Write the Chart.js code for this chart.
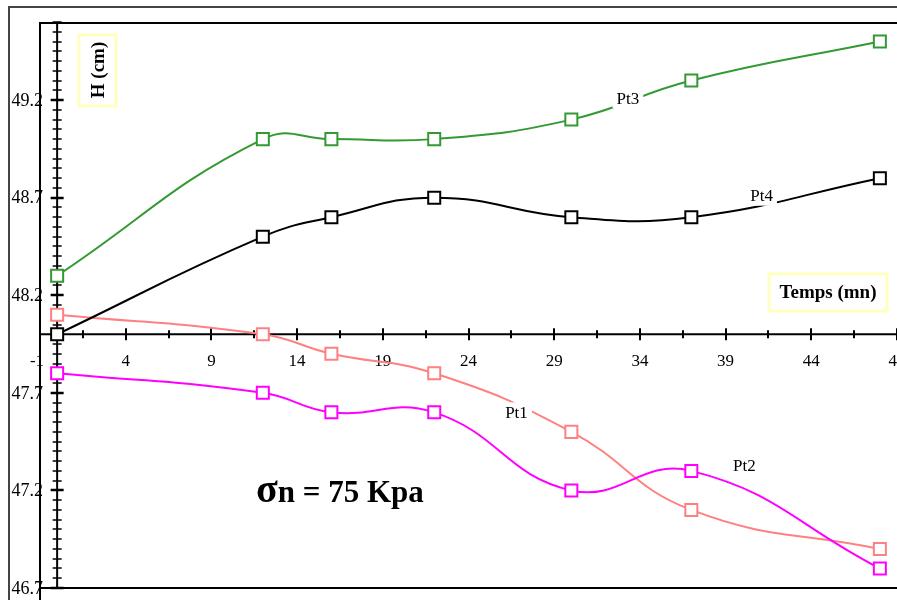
<!DOCTYPE html>
<html><head><meta charset="utf-8">
<script src="https://cdn.jsdelivr.net/npm/chart.js@4/dist/chart.umd.min.js"></script>
<style>html,body{margin:0;padding:0;background:#fff;}canvas{display:block;}</style>
</head><body>
<canvas id="c" width="897" height="600"></canvas>
<script>
const times = [0, 12, 16, 22, 30, 37, 48];
const pt1 = [48.1, 48.0, 47.9, 47.8, 47.5, 47.1, 46.9];
const pt2 = [47.8, 47.7, 47.6, 47.6, 47.2, 47.3, 46.8];
const pt3 = [48.3, 49.0, 49.0, 49.0, 49.1, 49.3, 49.5];
const pt4 = [48.0, 48.5, 48.6, 48.7, 48.6, 48.6, 48.8];
const seriesNames = ['Pt1', 'Pt2', 'Pt3', 'Pt4'];
const xTickLabels = [-1, 4, 9, 14, 19, 24, 29, 34, 39, 44, 49];
const yTickLabels = [46.7, 47.2, 47.7, 48.2, 48.7, 49.2];
// annotation anchors in data units
const nameLabelX = [26.8, 40.1, 33.3, 41.1];
const nameLabelY = [47.60, 47.33, 49.21, 48.71];

const colors = ['#ff8080', '#ff00ff', '#339933', '#000000'];
const seriesData = [pt1, pt2, pt3, pt4];

const SERIF = '"Liberation Serif", "Times New Roman", serif';

const datasets = seriesData.map((vals, i) => ({
  label: seriesNames[i],
  data: times.map((t, k) => ({x: t, y: vals[k]})),
  borderColor: colors[i],
  backgroundColor: '#ffffff',
  borderWidth: 2,
  pointStyle: 'rect',
  pointRadius: 8.5,
  pointBorderWidth: 2,
  pointBorderColor: colors[i],
  pointBackgroundColor: '#ffffff',
  tension: 0.45,
  fill: false,
  clip: false
}));
datasets.forEach((d, i) => d.order = 4 - i);

const axesPlugin = {
  id: 'axesPlugin',
  beforeDatasetsDraw(chart) {
    const ctx = chart.ctx;
    const xs = chart.scales.x, ys = chart.scales.y;
    const a = chart.chartArea;
    ctx.save();
    ctx.strokeStyle = '#444';
    ctx.lineWidth = 2;
    ctx.beginPath();
    ctx.moveTo(9, 600); ctx.lineTo(9, 7); ctx.lineTo(897, 7);
    ctx.stroke();
    ctx.strokeStyle = '#000';
    ctx.lineWidth = 2;
    ctx.beginPath();
    ctx.moveTo(897, a.top); ctx.lineTo(a.left, a.top); ctx.lineTo(a.left, 600);
    ctx.moveTo(a.left, a.bottom); ctx.lineTo(897, a.bottom);
    ctx.stroke();

    const x0 = xs.getPixelForValue(0);
    const y0 = ys.getPixelForValue(48.0);
    ctx.beginPath();
    ctx.moveTo(x0, a.top); ctx.lineTo(x0, a.bottom);
    ctx.stroke();
    for (let k = 0; k <= 58; k++) {
      const v = 46.7 + k * 0.05;
      const py = Math.round(ys.getPixelForValue(v));
      const major = k % 10 === 0;
      const h = major ? 6.5 : 4.5;
      ctx.lineWidth = major ? 2.5 : 1.5;
      ctx.beginPath();
      ctx.moveTo(x0 - h, py); ctx.lineTo(x0 + h, py);
      ctx.stroke();
    }
    ctx.lineWidth = 2;
    ctx.beginPath();
    ctx.moveTo(a.left, y0); ctx.lineTo(897, y0);
    ctx.stroke();
    for (let k = 0; k <= 20; k++) {
      const v = -1 + k * 2.5;
      const px = Math.round(xs.getPixelForValue(v));
      const major = k % 2 === 0;
      const h = major ? 6 : 4;
      ctx.lineWidth = 2;
      ctx.beginPath();
      ctx.moveTo(px, y0 - h); ctx.lineTo(px, y0 + h);
      ctx.stroke();
    }
    ctx.fillStyle = '#000';
    ctx.font = '18px ' + SERIF;
    ctx.textAlign = 'right';
    ctx.textBaseline = 'middle';
    yTickLabels.forEach(v => {
      ctx.fillText(v.toFixed(1), a.left + 3, ys.getPixelForValue(v) + 1);
    });
    ctx.font = '17px ' + SERIF;
    ctx.textAlign = 'center';
    xTickLabels.forEach(v => {
      ctx.fillText(String(v), xs.getPixelForValue(v) - (v === -1 ? 3 : 0), y0 + 27);
    });
    ctx.restore();
  },
  afterDatasetsDraw(chart) {
    const ctx = chart.ctx;
    const xs = chart.scales.x, ys = chart.scales.y;
    ctx.save();
    ctx.font = '17px ' + SERIF;
    ctx.textAlign = 'center';
    ctx.textBaseline = 'middle';
    seriesNames.forEach((n, i) => {
      const px = xs.getPixelForValue(nameLabelX[i]);
      const py = ys.getPixelForValue(nameLabelY[i]);
      const w = ctx.measureText(n).width;
      ctx.fillStyle = '#fff';
      ctx.fillRect(px - w / 2 - 4, py - 10, w + 8, 20);
      ctx.fillStyle = '#000';
      ctx.fillText(n, px, py + 1);
    });
    ctx.strokeStyle = '#ffffc0';
    ctx.lineWidth = 3;
    ctx.fillStyle = '#fff';
    ctx.fillRect(79, 35, 37, 71);
    ctx.strokeRect(79, 35, 37, 71);
    ctx.fillRect(769, 274, 118, 37);
    ctx.strokeRect(769, 274, 118, 37);
    ctx.fillStyle = '#000';
    ctx.font = 'bold 19px ' + SERIF;
    ctx.textAlign = 'center';
    ctx.textBaseline = 'middle';
    ctx.fillText('Temps (mn)', 828, 293);
    ctx.save();
    ctx.translate(98, 70);
    ctx.rotate(-Math.PI / 2);
    ctx.fillText('H (cm)', 0, 1);
    ctx.restore();
    const cx = xs.getPixelForValue(16.5), cy = ys.getPixelForValue(47.2);
    ctx.font = 'bold 31px ' + SERIF;
    const rest = 'n = 75 Kpa';
    const wr = ctx.measureText(rest).width;
    ctx.font = 'bold 40px ' + SERIF;
    const ws = ctx.measureText('\u03c3').width;
    const left = cx - (wr + ws) / 2;
    ctx.textAlign = 'left';
    ctx.textBaseline = 'alphabetic';
    ctx.fillText('\u03c3', left, cy + 12);
    ctx.font = 'bold 31px ' + SERIF;
    ctx.fillText(rest, left + ws, cy + 12);
    ctx.restore();
  }
};

new Chart(document.getElementById('c'), {
  type: 'line',
  data: {datasets},
  options: {
    responsive: false,
    devicePixelRatio: 1,
    animation: false,
    layout: {autoPadding: false, padding: {left: 40, top: 23, right: 0, bottom: 12}},
    plugins: {legend: {display: false}, tooltip: {enabled: false}},
    scales: {
      x: {type: 'linear', min: -1, max: 49, display: false},
      y: {type: 'linear', min: 46.7, max: 49.595, display: false}
    }
  },
  plugins: [axesPlugin]
});
</script>
</body></html>
